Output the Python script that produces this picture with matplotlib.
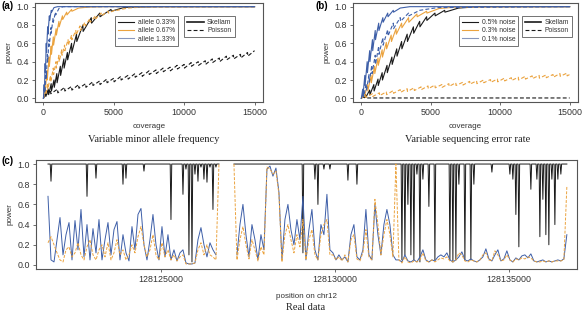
import numpy as np
import matplotlib
matplotlib.use("Agg")
import matplotlib.pyplot as plt
from matplotlib.lines import Line2D

plt.rcParams['font.family'] = ['Liberation Sans', 'DejaVu Sans']

BLACK = '#1a1a1a'
ORANGE = '#eba33f'
BLUE = '#3e5fa8'

# ---- panel (a): variable minor allele frequency ----
a_sk_033_cov = [0, 150, 170, 350, 370, 550, 570, 750, 770, 950, 970, 1200, 1220, 1450, 1470, 1700, 1720,
                2000, 2020, 2350, 2370, 2800, 2820, 3400, 3420, 4000, 4020, 4800, 4820, 5700, 6500, 8000, 15000]
a_sk_033_pow = [0, 0.06, 0.02, 0.10, 0.04, 0.16, 0.08, 0.20, 0.12, 0.27, 0.17, 0.35, 0.25, 0.43, 0.33, 0.50, 0.42,
                0.60, 0.50, 0.70, 0.62, 0.80, 0.73, 0.88, 0.82, 0.93, 0.89, 0.97, 0.95, 0.99, 0.995, 1.0, 1.0]

a_po_033_cov = [0, 250, 270, 500, 520, 1000, 1020, 1500, 1520, 2000, 2020, 2500, 2520, 3000, 3020, 3500, 3520,
                4000, 4020, 4500, 4520, 5000, 5020, 5500, 5520, 6000, 6020, 6500, 6520, 7000, 7020, 7500, 7520,
                8000, 8020, 8500, 8520, 9000, 9020, 9500, 9520, 10000, 10020, 10500, 10520, 11000, 11020,
                11500, 11520, 12000, 12020, 12500, 12520, 13000, 13020, 13500, 13520, 14000, 14020, 14500,
                14520, 15000]
a_po_033_pow = [0, 0.08, 0.04, 0.09, 0.05, 0.10, 0.06, 0.12, 0.08, 0.13, 0.09, 0.15, 0.11, 0.16, 0.12, 0.18, 0.14,
                0.19, 0.15, 0.21, 0.17, 0.22, 0.18, 0.24, 0.20, 0.25, 0.21, 0.27, 0.23, 0.28, 0.24, 0.30, 0.26,
                0.31, 0.27, 0.33, 0.29, 0.34, 0.30, 0.36, 0.32, 0.37, 0.33, 0.39, 0.35, 0.40, 0.36,
                0.41, 0.37, 0.43, 0.39, 0.44, 0.40, 0.46, 0.42, 0.47, 0.43, 0.48, 0.44, 0.50,
                0.46, 0.52]

a_sk_067_cov = [0, 100, 120, 250, 270, 400, 420, 550, 570, 700, 720, 900, 920, 1100, 1120, 1350, 1370,
                1650, 1670, 2000, 2020, 2500, 3200, 4500, 15000]
a_sk_067_pow = [0, 0.12, 0.06, 0.30, 0.20, 0.45, 0.35, 0.57, 0.48, 0.67, 0.58, 0.76, 0.69, 0.84, 0.78, 0.90, 0.86,
                0.94, 0.91, 0.97, 0.95, 0.985, 0.995, 1.0, 1.0]

a_po_067_cov = [0, 150, 170, 300, 320, 500, 520, 700, 720, 900, 920, 1100, 1120, 1300, 1320, 1500, 1520,
                1750, 1770, 2000, 2020, 2300, 2320, 2600, 2620, 2950, 2970, 3300, 3320, 3700, 3720, 4100, 4120,
                4600, 4620, 5200, 5220, 6000, 7000, 15000]
a_po_067_pow = [0, 0.08, 0.04, 0.16, 0.10, 0.25, 0.18, 0.33, 0.26, 0.40, 0.33, 0.47, 0.40, 0.53, 0.47, 0.58, 0.52,
                0.64, 0.58, 0.69, 0.64, 0.74, 0.69, 0.79, 0.74, 0.83, 0.79, 0.87, 0.83, 0.90, 0.87, 0.93, 0.90,
                0.95, 0.93, 0.97, 0.96, 0.985, 0.995, 1.0]

a_sk_133_cov = [0, 50, 70, 120, 140, 200, 220, 300, 320, 420, 440, 560, 580, 750, 1000, 15000]
a_sk_133_pow = [0, 0.15, 0.08, 0.38, 0.28, 0.60, 0.50, 0.78, 0.70, 0.90, 0.85, 0.96, 0.94, 0.99, 1.0, 1.0]

a_po_133_cov = [0, 80, 100, 180, 200, 280, 300, 400, 420, 530, 550, 680, 700, 850, 870, 1100, 1400, 15000]
a_po_133_pow = [0, 0.12, 0.06, 0.30, 0.22, 0.48, 0.40, 0.64, 0.57, 0.77, 0.71, 0.87, 0.83, 0.94, 0.91, 0.98, 1.0, 1.0]

# ---- panel (b): variable sequencing error rate ----
b_sk_05_cov = [0, 300, 320, 600, 620, 900, 920, 1200, 1220, 1500, 1520, 1850, 1870, 2200, 2220, 2550, 2570,
               2900, 2920, 3300, 3320, 3750, 3770, 4200, 4220, 4700, 4720, 5300, 5320, 6000, 6020, 7000, 8500, 15000]
b_sk_05_pow = [0, 0.04, 0.01, 0.09, 0.04, 0.15, 0.08, 0.21, 0.14, 0.28, 0.20, 0.36, 0.28, 0.45, 0.37, 0.54, 0.46,
               0.62, 0.54, 0.70, 0.62, 0.78, 0.71, 0.84, 0.78, 0.89, 0.85, 0.93, 0.90, 0.96, 0.94, 0.985, 1.0, 1.0]

b_po_05_cov = [0, 300, 15000]
b_po_05_pow = [0.02, 0.004, 0.004]

b_sk_03_cov = [0, 200, 220, 450, 470, 700, 720, 950, 970, 1200, 1220, 1500, 1520, 1800, 1820, 2150, 2170,
               2500, 2520, 2900, 2920, 3400, 3420, 4000, 4020, 4700, 4720, 5600, 6800, 15000]
b_sk_03_pow = [0, 0.06, 0.02, 0.15, 0.08, 0.25, 0.17, 0.35, 0.27, 0.44, 0.36, 0.53, 0.45, 0.61, 0.54, 0.69, 0.62,
               0.76, 0.70, 0.82, 0.77, 0.88, 0.83, 0.92, 0.89, 0.95, 0.93, 0.98, 0.995, 1.0]

b_po_03_cov = [0, 300, 320, 800, 820, 1300, 1320, 1800, 1820, 2300, 2320, 2800, 2820, 3300, 3320, 3800, 3820,
               4300, 4320, 4800, 4820, 5300, 5320, 5800, 5820, 6300, 6320, 6800, 6820, 7300, 7320, 7800, 7820,
               8300, 8320, 8800, 8820, 9300, 9320, 9800, 9820, 10300, 10320, 10800, 10820, 11300, 11320,
               11800, 11820, 12300, 12320, 12800, 12820, 13300, 13320, 13800, 13820, 14300, 14320, 14800,
               14820, 15000]
b_po_03_pow = [0, 0.04, 0.01, 0.05, 0.02, 0.06, 0.03, 0.07, 0.04, 0.085, 0.055, 0.095, 0.065, 0.105, 0.075, 0.115, 0.085,
               0.125, 0.095, 0.135, 0.105, 0.145, 0.115, 0.15, 0.12, 0.16, 0.13, 0.17, 0.14, 0.175, 0.145, 0.185, 0.155,
               0.19, 0.16, 0.20, 0.17, 0.205, 0.175, 0.21, 0.18, 0.22, 0.19, 0.225, 0.195, 0.23, 0.20,
               0.24, 0.21, 0.245, 0.215, 0.25, 0.22, 0.255, 0.225, 0.26, 0.23, 0.27, 0.24, 0.275,
               0.245, 0.26]

b_sk_01_cov = [0, 100, 120, 250, 270, 420, 440, 600, 620, 800, 820, 1000, 1020, 1250, 1270, 1550, 1570,
               1900, 1920, 2300, 2320, 2800, 3500, 15000]
b_sk_01_pow = [0, 0.10, 0.03, 0.25, 0.14, 0.40, 0.28, 0.52, 0.40, 0.64, 0.52, 0.74, 0.64, 0.82, 0.74, 0.88, 0.83,
               0.93, 0.89, 0.96, 0.94, 0.985, 1.0, 1.0]

b_po_01_cov = [0, 150, 170, 350, 370, 550, 570, 750, 770, 1000, 1020, 1250, 1270, 1550, 1570, 1900, 1920,
               2300, 2320, 2800, 2820, 3400, 3420, 4200, 5500, 15000]
b_po_01_pow = [0, 0.06, 0.02, 0.16, 0.08, 0.26, 0.17, 0.36, 0.27, 0.47, 0.37, 0.57, 0.48, 0.66, 0.58, 0.75, 0.68,
               0.82, 0.76, 0.88, 0.84, 0.93, 0.90, 0.96, 0.99, 1.0]

# ---- panel (c): real data, chr12 ----
# blue / orange sampled every ~86 bp from pos_start
pos_start = 128121752
pos_step = 86.2
nan = np.nan

c_blue = [0.68, 0.05, 0.03, 0.25, 0.47, 0.10, 0.30, 0.42, 0.05, 0.44,
          0.15, 0.55, 0.08, 0.40, 0.05, 0.36, 0.12, 0.45, 0.05, 0.25,
          0.42, 0.10, 0.35, 0.43, 0.05, 0.30, 0.12, 0.04, 0.38, 0.15,
          0.50, 0.56, 0.20, 0.05, 0.25, 0.50, 0.20, 0.05, 0.38, 0.08,
          0.30, 0.05, 0.15, 0.04, 0.12, 0.15, 0.02, 0.01, 0.01, 0.02,
          0.25, 0.37, 0.20, 0.08, 0.22, 0.15, 0.10, nan, nan, nan,
          nan, nan, nan, 0.10, 0.40, 0.60, 0.30, 0.08, 0.40, 0.25,
          0.05, 0.30, 0.15, 0.95, 0.98, 0.88, 0.96, 0.72, 0.05, 0.45,
          0.60, 0.35, 0.20, 0.45, 0.25, 0.68, 0.05, 0.35, 0.55, 0.15,
          0.05, 0.40, 0.30, 0.70, 0.15, 0.12, 0.05, 0.10, 0.05, 0.08,
          0.03, 0.30, 0.40, 0.08, 0.05, 0.15, 0.55, 0.10, 0.05, 0.60,
          0.30, 0.10, 0.40, 0.55, 0.40, 0.10, 0.05, 0.05, 0.03, 0.10,
          0.04, 0.03, 0.05, 0.03, 0.08, 0.15, 0.05, 0.03, 0.05, 0.04,
          0.08, 0.10, 0.08, 0.12, 0.05, 0.03, 0.05, 0.08, 0.13, 0.05,
          0.04, 0.06, 0.04, 0.03, 0.05, 0.08, 0.16, 0.06, 0.04, 0.10,
          0.15, 0.04, 0.06, 0.14, 0.05, 0.03, 0.07, 0.05, 0.09, 0.10,
          0.07, 0.11, 0.04, 0.03, 0.04, 0.05, 0.03, 0.04, 0.03, 0.04,
          0.05, 0.04, 0.06, 0.30]

c_orange = [0.22, 0.28, 0.20, 0.12, 0.05, 0.03, 0.15, 0.18, 0.08, 0.12,
            0.22, 0.10, 0.05, 0.18, 0.25, 0.10, 0.05, 0.15, 0.20, 0.08,
            0.22, 0.05, 0.12, 0.25, 0.10, 0.15, 0.05, 0.10, 0.20, 0.12,
            0.28, 0.38, 0.20, 0.08, 0.15, 0.30, 0.10, 0.05, 0.22, 0.08,
            0.15, 0.05, 0.10, 0.04, 0.08, 0.10, 0.01, 0.01, 0.01, 0.02,
            0.15, 0.22, 0.10, 0.20, 0.10, 0.08, 0.05, 1.00, nan, nan,
            nan, nan, 1.00, 0.05, 0.25, 0.38, 0.20, 0.06, 0.25, 0.15,
            0.04, 0.18, 0.10, 0.97, 0.95, 0.90, 0.93, 0.70, 0.03, 0.30,
            0.40, 0.25, 0.12, 0.30, 0.18, 0.45, 0.05, 0.25, 0.35, 0.10,
            0.05, 0.30, 0.40, 0.45, 0.10, 0.10, 0.05, 0.08, 0.04, 0.10,
            0.03, 0.25, 0.30, 0.06, 0.04, 0.12, 0.35, 0.08, 0.05, 0.65,
            0.40, 0.10, 0.30, 0.45, 0.30, 0.08, 1.00, 0.05, 0.02, 0.08,
            0.03, 0.02, 0.04, 0.03, 0.05, 0.12, 0.04, 0.03, 0.05, 0.03,
            0.05, 0.07, 0.06, 0.08, 0.04, 0.03, 0.05, 0.12, 0.10, 0.04,
            0.03, 0.05, 0.04, 0.03, 0.05, 0.10, 0.12, 0.05, 0.04, 0.14,
            0.10, 0.04, 0.05, 0.10, 0.05, 0.03, 0.06, 0.05, 0.07, 0.06,
            0.08, 0.07, 0.04, 0.03, 0.03, 0.04, 0.03, 0.04, 0.03, 0.04,
            0.04, 0.04, 0.05, 0.78]

# black series sits at 1.0 over these covered stretches, with narrow dips
c_black_runs = [(128121752, 128126665), (128127096, 128136665)]
c_black_dip_pos = [128121838, 128122873, 128123131, 128123907, 128123993, 128124510, 128125286,
                   128125631, 128125717, 128125803, 128125890, 128125976, 128126062, 128126148,
                   128126234, 128126321, 128126407, 128126493, 128126579,
                   128129079, 128129424, 128129510, 128129682, 128129855, 128130372, 128130631,
                   128131924, 128132010, 128132096, 128132182, 128132268, 128132355, 128132441,
                   128132527, 128132699, 128132872, 128133303, 128133389, 128133475, 128133561,
                   128133734, 128133906, 128133992, 128134510, 128135027, 128135113, 128135199,
                   128135285, 128135630, 128135803, 128135889, 128135975, 128136061, 128136147,
                   128136234, 128136320, 128136406, 128136492]
c_black_dip_pow = [0.83, 0.68, 0.86, 0.80, 0.86, 0.93, 0.45,
                   0.70, 0.95, 0.10, 0.03, 0.90, 0.83, 0.97,
                   0.85, 0.82, 0.97, 0.55, 0.97,
                   0.12, 0.85, 0.60, 0.95, 0.95, 0.84, 0.80,
                   0.05, 0.10, 0.60, 0.10, 0.05, 0.90, 0.03,
                   0.85, 0.58, 0.05, 0.05, 0.03, 0.05, 0.80,
                   0.05, 0.05, 0.80, 0.92, 0.90, 0.85, 0.50,
                   0.18, 0.75, 0.85, 0.28, 0.65, 0.30, 0.20,
                   0.85, 0.40, 0.85, 0.90]

c_xticks = [128125000, 128130000, 128135000]


def black_path(runs, dip_pos, dip_pow, half=22):
    xs, ys = [], []
    for r0, r1 in runs:
        xs.append(r0)
        ys.append(1.0)
        for p, v in zip(dip_pos, dip_pow):
            if r0 < p < r1:
                xs += [p - half, p, p + half]
                ys += [1.0, v, 1.0]
        xs.append(r1)
        ys.append(1.0)
        xs.append(r1)
        ys.append(np.nan)
    return xs, ys


def style_axes(ax):
    for s in ax.spines.values():
        s.set_color('#555555')
        s.set_linewidth(0.8)
    ax.tick_params(direction='out', length=2.5, width=0.6, colors='#555555',
                   labelcolor='#333333', labelsize=6.4, pad=2)
    ax.set_yticks([0, 0.2, 0.4, 0.6, 0.8, 1.0])
    ax.set_yticklabels(['0.0', '0.2', '0.4', '0.6', '0.8', '1.0'])
    ax.set_ylim(-0.04, 1.04)
    ax.set_ylabel('power', fontsize=5.8, color='#333333', labelpad=3)


fig = plt.figure(figsize=(5.82, 3.13), dpi=100)
W, H = 582.0, 313.0

ax_a = fig.add_axes([35 / W, 1 - 102 / H, 228 / W, 99 / H])
ax_b = fig.add_axes([353 / W, 1 - 102 / H, 225 / W, 99 / H])
ax_c = fig.add_axes([36 / W, 1 - 269 / H, 541 / W, 109 / H])

lw = 0.8
dash = (0, (3.5, 2))

ax_a.plot(a_po_033_cov, a_po_033_pow, color=BLACK, lw=lw, ls=dash)
ax_a.plot(a_sk_033_cov, a_sk_033_pow, color=BLACK, lw=lw)
ax_a.plot(a_po_067_cov, a_po_067_pow, color=ORANGE, lw=lw, ls=dash)
ax_a.plot(a_sk_067_cov, a_sk_067_pow, color=ORANGE, lw=lw)
ax_a.plot(a_po_133_cov, a_po_133_pow, color=BLUE, lw=lw, ls=dash)
ax_a.plot(a_sk_133_cov, a_sk_133_pow, color=BLUE, lw=lw)

ax_b.plot(b_po_05_cov, b_po_05_pow, color=BLACK, lw=lw, ls=dash)
ax_b.plot(b_sk_05_cov, b_sk_05_pow, color=BLACK, lw=lw)
ax_b.plot(b_po_03_cov, b_po_03_pow, color=ORANGE, lw=lw, ls=dash)
ax_b.plot(b_sk_03_cov, b_sk_03_pow, color=ORANGE, lw=lw)
ax_b.plot(b_po_01_cov, b_po_01_pow, color=BLUE, lw=lw, ls=dash)
ax_b.plot(b_sk_01_cov, b_sk_01_pow, color=BLUE, lw=lw)

for ax in (ax_a, ax_b):
    style_axes(ax)
    ax.set_xlim(-600, 15600)
    ax.set_xticks([0, 5000, 10000, 15000])
    ax.set_xlabel('coverage', fontsize=5.8, color='#333333', labelpad=4)

leg_kw = dict(fontsize=4.9, frameon=True, fancybox=False, handlelength=2.4,
              handletextpad=0.5, borderpad=0.45, labelspacing=0.2, loc='upper left',
              borderaxespad=0)


def add_legends(ax, labels, x1, x2):
    h1 = [Line2D([], [], color=c, lw=0.8) for c in (BLACK, ORANGE, '#8797bd')]
    l1 = ax.legend(h1, labels, bbox_to_anchor=(x1, 0.87), **leg_kw)
    l1.get_frame().set_edgecolor('#333333')
    l1.get_frame().set_linewidth(0.6)
    for t in l1.get_texts():
        t.set_color('#333333')
    ax.add_artist(l1)
    h2 = [Line2D([], [], color=BLACK, lw=1.2), Line2D([], [], color=BLACK, lw=0.8, ls=dash)]
    l2 = ax.legend(h2, ['Skellam', 'Poisson'], bbox_to_anchor=(x2, 0.87), **leg_kw)
    l2.get_frame().set_edgecolor('#333333')
    l2.get_frame().set_linewidth(0.6)
    for t in l2.get_texts():
        t.set_color('#333333')


add_legends(ax_a, ['allele 0.33%', 'allele 0.67%', 'allele 1.33%'], 0.35, 0.655)
add_legends(ax_b, ['0.5% noise', '0.3% noise', '0.1% noise'], 0.47, 0.75)

pos = pos_start + pos_step * np.arange(len(c_blue))
bx, by = black_path(c_black_runs, c_black_dip_pos, c_black_dip_pow)
ax_c.plot(bx, by, color=BLACK, lw=0.7)
ax_c.plot(pos, c_blue, color=BLUE, lw=0.7)
ax_c.plot(pos, c_orange, color=ORANGE, lw=0.7, ls=(0, (3, 1.5)))
style_axes(ax_c)
ax_c.set_xlim(128121407, 128136956)
ax_c.set_xticks(c_xticks)
ax_c.set_xticklabels([str(v) for v in c_xticks])
ax_c.set_xlabel('position on chr12', fontsize=5.8, color='#333333', labelpad=6)

serif = ['Liberation Serif', 'DejaVu Serif']
fig.text(154 / W, 1 - 139 / H, 'Variable minor allele frequency', family=serif,
         fontsize=7.5, ha='center', va='center', color='#222222')
fig.text(468 / W, 1 - 139 / H, 'Variable sequencing error rate', family=serif,
         fontsize=7.5, ha='center', va='center', color='#222222')
fig.text(306 / W, 1 - 307 / H, 'Real data', family=serif,
         fontsize=7.5, ha='center', va='center', color='#222222')

fig.text(1 / W, 1 - 6 / H, '(a)', fontsize=7, fontweight='bold', va='center', ha='left')
fig.text(316 / W, 1 - 6 / H, '(b)', fontsize=7, fontweight='bold', va='center', ha='left')
fig.text(1 / W, 1 - 161 / H, '(c)', fontsize=7, fontweight='bold', va='center', ha='left')

fig.savefig('out.png', dpi=100)
